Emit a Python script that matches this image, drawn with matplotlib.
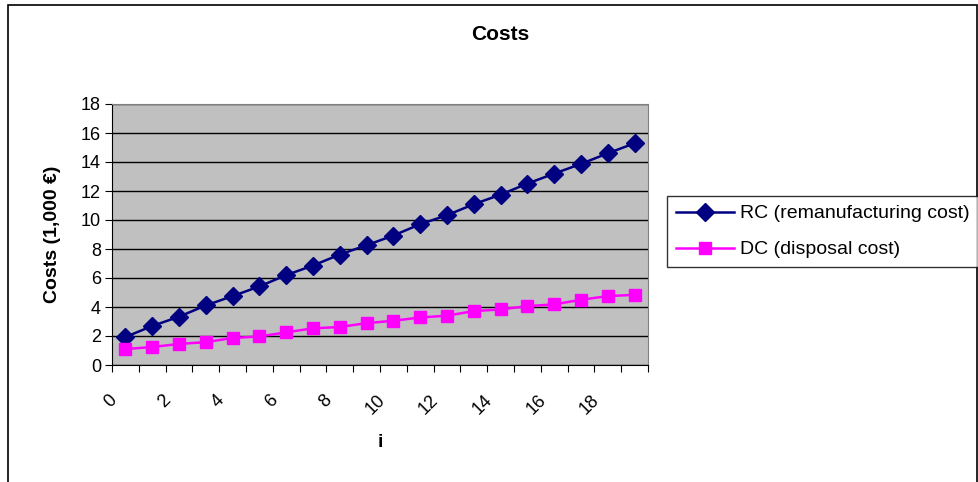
import matplotlib
matplotlib.use("Agg")
import matplotlib.pyplot as plt
from matplotlib.patches import Rectangle
import matplotlib.transforms as mtransforms

plt.rcParams['font.family'] = ['Liberation Sans', 'DejaVu Sans']

# data
i_vals = list(range(20))
rc = [1.93, 2.69, 3.33, 4.11, 4.75, 5.42, 6.20, 6.86, 7.62, 8.26,
      8.93, 9.71, 10.33, 11.09, 11.75, 12.51, 13.20, 13.87, 14.60, 15.29]
dc = [1.10, 1.24, 1.45, 1.58, 1.86, 1.97, 2.25, 2.53, 2.62, 2.89,
      3.05, 3.28, 3.40, 3.72, 3.83, 4.06, 4.18, 4.50, 4.75, 4.84]
x_labels = [0, 2, 4, 6, 8, 10, 12, 14, 16, 18]
y_ticks = list(range(0, 19, 2))

fig = plt.figure(figsize=(9.79, 4.82), dpi=100)
fig.patches.append(Rectangle((8 / 979, -0.1), 969 / 979, 1.1 - 5 / 482,
                             transform=fig.transFigure, fill=False,
                             edgecolor='black', linewidth=1.2))

ax = fig.add_axes([112 / 979, 117 / 482, 536 / 979, 261 / 482])
ax.set_facecolor('#C0C0C0')

ax.plot(i_vals, rc, color='#000080', lw=1.8, marker='D', ms=9,
        markerfacecolor='#000080', markeredgecolor='#000080',
        label='RC (remanufacturing cost)')
ax.plot(i_vals, dc, color='#FF00FF', lw=1.8, marker='s', ms=9,
        markerfacecolor='#FF00FF', markeredgecolor='#FF00FF',
        label='DC (disposal cost)')

ax.set_xlim(-0.5, 19.5)
ax.set_ylim(0, 18)
ax.set_yticks(y_ticks)
ax.yaxis.grid(True, color='black', lw=1)
ax.set_axisbelow(True)
ax.tick_params(axis='y', labelsize=13, length=5, direction='out', pad=3)

# category boundary ticks, labels on every second category
ax.set_xticks([k - 0.5 for k in range(21)])
ax.set_xticklabels([])
ax.tick_params(axis='x', which='major', length=5, direction='out')
ax.set_xticks(x_labels, minor=True)
ax.set_xticklabels([str(v) for v in x_labels], minor=True, rotation=45,
                   ha='right', rotation_mode='anchor', fontsize=13)
ax.tick_params(axis='x', which='minor', length=0, pad=19)
offset = mtransforms.ScaledTranslation(-17 / 100, 0, fig.dpi_scale_trans)
for lbl in ax.get_xticklabels(minor=True):
    lbl.set_transform(lbl.get_transform() + offset)

for s in ['top', 'right']:
    ax.spines[s].set_color('#808080')
for s in ['left', 'bottom']:
    ax.spines[s].set_color('black')

ax.set_xlabel('i', fontsize=14, fontweight='bold', labelpad=12)
ax.set_ylabel('Costs (1,000 \u20ac)', fontsize=14, fontweight='bold', labelpad=14)
fig.text(500 / 979, 1 - 35 / 482, 'Costs', ha='center', va='center',
         fontsize=15, fontweight='bold')

leg = fig.legend(loc='upper left', bbox_to_anchor=(667 / 979, 1 - 196 / 482),
                 fontsize=14, frameon=True, fancybox=False, edgecolor='black',
                 handlelength=3, borderpad=0.45, labelspacing=0.95,
                 handletextpad=0.3, borderaxespad=0)
leg.get_frame().set_linewidth(1)

fig.savefig('out.png', dpi=100)
